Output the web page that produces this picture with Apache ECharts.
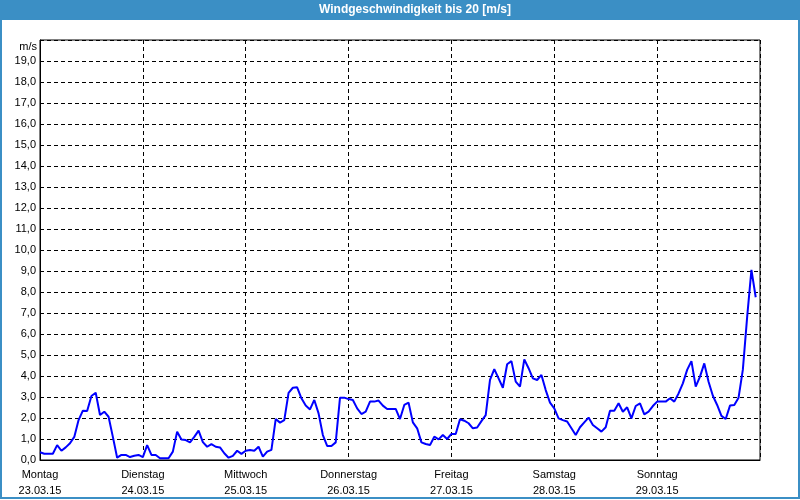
<!DOCTYPE html>
<html><head><meta charset="utf-8">
<script src="https://cdn.jsdelivr.net/npm/echarts@6/dist/echarts.min.js"></script>
<style>html,body{margin:0;padding:0;background:#fff}#c{width:800px;height:500px}</style>
</head><body><div id="c"></div>
<script>
var title = 'Windgeschwindigkeit bis 20 [m/s]';
var dayNames = ['Montag','Dienstag','Mittwoch','Donnerstag','Freitag','Samstag','Sonntag'];
var dayDates = ['23.03.15','24.03.15','25.03.15','26.03.15','27.03.15','28.03.15','29.03.15'];
var yUnit = 'm/s';
// hourly wind speed [m/s], starting Monday 23.03.15 00:00
var windSpeed = [
 0.37,0.30,0.30,0.30,0.71,0.44,0.60,0.80,1.10,1.90,2.35,2.33,3.05,3.20,2.14,2.30,2.06,1.10,0.11,0.24,0.24,0.14,0.20,0.24,
 0.14,0.71,0.24,0.24,0.08,0.08,0.08,0.40,1.35,0.98,0.95,0.84,1.10,1.40,0.85,0.63,0.76,0.63,0.60,0.32,0.11,0.20,0.44,0.29,
 0.44,0.48,0.44,0.63,0.16,0.40,0.48,1.95,1.78,1.90,3.20,3.44,3.46,2.94,2.59,2.41,2.86,2.22,1.19,0.67,0.67,0.84,2.97,2.97,
 2.90,2.86,2.46,2.19,2.30,2.78,2.78,2.83,2.59,2.43,2.43,2.43,1.95,2.62,2.73,1.79,1.51,0.84,0.76,0.71,1.11,0.98,1.19,1.00,
 1.24,1.24,1.94,1.87,1.75,1.51,1.55,1.85,2.14,3.81,4.33,3.89,3.44,4.56,4.71,3.73,3.49,4.79,4.37,3.89,3.81,4.05,3.33,2.73,
 2.46,1.98,1.90,1.83,1.51,1.19,1.56,1.79,2.02,1.67,1.51,1.35,1.56,2.35,2.35,2.70,2.30,2.51,1.98,2.57,2.70,2.17,2.30,2.57,
 2.78,2.78,2.78,2.94,2.78,3.17,3.65,4.29,4.71,3.49,3.97,4.60,3.73,3.06,2.62,2.10,1.95,2.59,2.62,2.97,4.30,6.80,9.05,7.75
];
var seriesData = windSpeed.map(function(v,i){return [i,v];});
var font = 'Liberation Sans';
var chart = echarts.init(document.getElementById('c'));
chart.setOption({
  backgroundColor:'#ffffff',
  animation:false,
  grid:{left:40,right:40,top:40,bottom:40,show:true,borderColor:'#000',borderWidth:1,backgroundColor:'#fff'},
  xAxis:{type:'value',min:0,max:168,interval:24,
    axisLine:{show:true,lineStyle:{color:'#000',width:1}},
    axisTick:{show:false},
    splitLine:{show:true,lineStyle:{color:'#000',type:[4,3],width:1}},
    axisLabel:{color:'#000',fontFamily:font,fontSize:11,lineHeight:16,margin:7,
      formatter:function(v){var d=v/24; if(d>=dayNames.length) return ''; return dayNames[d]+'\n'+dayDates[d];}}
  },
  yAxis:{type:'value',min:0,max:20,interval:1,
    axisLine:{show:true,lineStyle:{color:'#000',width:1}},
    axisTick:{show:false},
    splitLine:{show:true,lineStyle:{color:'#000',type:[4,3],width:1}},
    axisLabel:{color:'#000',fontFamily:font,fontSize:11,margin:4,padding:[3,0,0,0],
      formatter:function(v){ if(v>=20) return ''; return v.toFixed(1).replace('.',',');}}
  },
  graphic:[
    {type:'rect',shape:{x:0,y:0,width:800,height:20},style:{fill:'#3b8fc5'},z:10},
    {type:'text',x:415,y:10,style:{text:title,fill:'#fff',font:'bold 12px "Liberation Sans"',align:'center',verticalAlign:'middle'},z:11},
    {type:'rect',shape:{x:1,y:1,width:798,height:497},style:{fill:'none',stroke:'#3b8fc5',lineWidth:2},z:10},
    {type:'text',x:37,y:47,style:{text:yUnit,fill:'#000',font:'11px "Liberation Sans"',align:'right',verticalAlign:'middle'},z:11}
  ],
  series:[{type:'line',data:seriesData,showSymbol:false,symbol:'none',
    lineStyle:{color:'#0000ff',width:2},itemStyle:{color:'#0000ff'},z:5}]
});
</script></body></html>
